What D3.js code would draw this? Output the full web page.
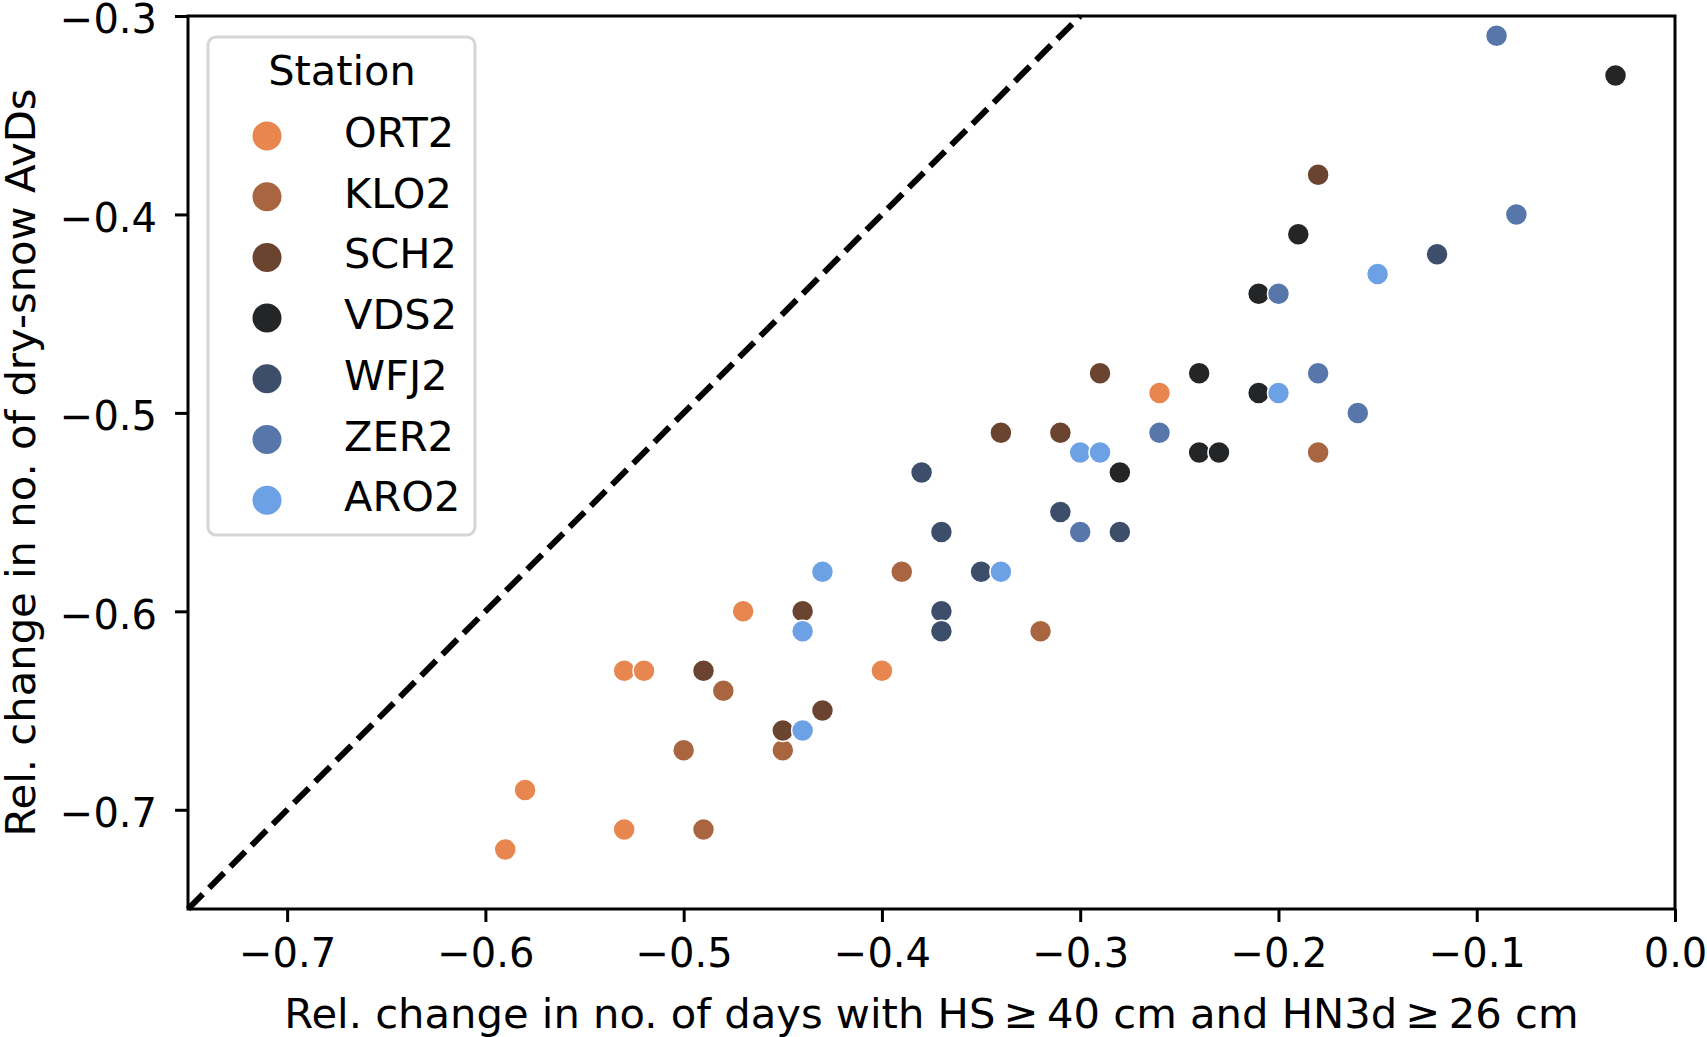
<!DOCTYPE html>
<html>
<head>
<meta charset="utf-8">
<script src="https://cdn.jsdelivr.net/npm/d3@7"></script>
<style>
  body { margin: 0; background: #fff; }
  svg { display: block; font-family: "DejaVu Sans", sans-serif; }
</style>
</head>
<body>
<div id="vis"></div>
<script>
const stations = ['ORT2', 'KLO2', 'SCH2', 'VDS2', 'WFJ2', 'ZER2', 'ARO2'];
const colors = ['#e8864f', '#a86540', '#6b4430', '#242526', '#3d4e6b', '#5777ab', '#6ca1e6'];

// x: rel. change in days with HS>=40 & HN3d>=26, y: rel. change in dry-snow AvDs
const ort2X = [-0.26, -0.47, -0.53, -0.52, -0.40, -0.58, -0.59, -0.53];
const ort2Y = [-0.49, -0.60, -0.63, -0.63, -0.63, -0.69, -0.72, -0.71];
const klo2X = [-0.18, -0.39, -0.32, -0.48, -0.50, -0.45, -0.49];
const klo2Y = [-0.52, -0.58, -0.61, -0.64, -0.67, -0.67, -0.71];
const sch2X = [-0.18, -0.29, -0.34, -0.31, -0.44, -0.49, -0.43, -0.45];
const sch2Y = [-0.38, -0.48, -0.51, -0.51, -0.60, -0.63, -0.65, -0.66];
const vds2X = [-0.03, -0.19, -0.21, -0.24, -0.21, -0.24, -0.23, -0.28];
const vds2Y = [-0.33, -0.41, -0.44, -0.48, -0.49, -0.52, -0.52, -0.53];
const wfj2X = [-0.12, -0.38, -0.31, -0.37, -0.28, -0.35, -0.37, -0.37];
const wfj2Y = [-0.42, -0.53, -0.55, -0.56, -0.56, -0.58, -0.60, -0.61];
const zer2X = [-0.09, -0.08, -0.20, -0.18, -0.16, -0.26, -0.30];
const zer2Y = [-0.31, -0.40, -0.44, -0.48, -0.50, -0.51, -0.56];
const aro2X = [-0.15, -0.20, -0.30, -0.29, -0.43, -0.34, -0.44, -0.44];
const aro2Y = [-0.43, -0.49, -0.52, -0.52, -0.58, -0.58, -0.61, -0.66];

const xTicks = [-0.7, -0.6, -0.5, -0.4, -0.3, -0.2, -0.1, 0.0];
const yTicks = [-0.7, -0.6, -0.5, -0.4, -0.3];
const xDomain = [-0.75, 0.0];
const yDomain = [-0.75, -0.3];
const diag = [-0.75, -0.3];

const seriesX = [ort2X, klo2X, sch2X, vds2X, wfj2X, zer2X, aro2X];
const seriesY = [ort2Y, klo2Y, sch2Y, vds2Y, wfj2Y, zer2Y, aro2Y];

const points = [];
stations.forEach(function(s, i) {
  seriesX[i].forEach(function(v, j) {
    points.push({ station: s, x: v, y: seriesY[i][j] });
  });
});

const W = 1707, H = 1037;
const margin = { top: 16, right: 32, bottom: 128, left: 188 };
const width = W - margin.left - margin.right;
const height = H - margin.top - margin.bottom;

const svg = d3.select('#vis')
  .append('svg')
  .attr('width', W)
  .attr('height', H);

const vis = svg.append('g')
  .attr('transform', 'translate(' + margin.left + ',' + margin.top + ')');

const x = d3.scaleLinear().domain(xDomain).range([0, width]);
const y = d3.scaleLinear().domain(yDomain).range([height, 0]);
const color = d3.scaleOrdinal().domain(stations).range(colors);

// 1:1 line
vis.append('line')
  .attr('x1', x(diag[0])).attr('y1', y(diag[0]))
  .attr('x2', x(diag[1])).attr('y2', y(diag[1]))
  .attr('stroke', '#000')
  .attr('stroke-width', 6)
  .attr('stroke-dasharray', '21,9');

// points
vis.append('g')
  .selectAll('circle')
  .data(points)
  .join('circle')
  .attr('cx', d => x(d.x))
  .attr('cy', d => y(d.y))
  .attr('r', 11)
  .attr('fill', d => color(d.station))
  .attr('stroke', '#fff')
  .attr('stroke-width', 1.5);

// axes
const xAxis = vis.append('g')
  .attr('transform', 'translate(0,' + height + ')')
  .call(d3.axisBottom(x).tickValues(xTicks).tickFormat(d3.format('.1f')).tickSize(13).tickPadding(17));

const yAxis = vis.append('g')
  .call(d3.axisLeft(y).tickValues(yTicks).tickFormat(d3.format('.1f')).tickSize(13).tickPadding(18));

[xAxis, yAxis].forEach(function(a) {
  a.select('.domain').remove();
  a.selectAll('line').attr('stroke', '#000').attr('stroke-width', 3);
  a.selectAll('text').attr('font-size', 40).attr('fill', '#000')
    .attr('font-family', '"DejaVu Sans", sans-serif');
});
yAxis.selectAll('text').attr('dy', '0.42em');

// frame
vis.append('rect')
  .attr('width', width)
  .attr('height', height)
  .attr('fill', 'none')
  .attr('stroke', '#000')
  .attr('stroke-width', 3);

// axis labels
svg.append('text')
  .attr('x', margin.left + width / 2)
  .attr('y', 1028)
  .attr('text-anchor', 'middle')
  .attr('font-size', 41.7)
  .text('Rel. change in no. of days with HS\u2009\u2265\u200940 cm and HN3d\u2009\u2265\u200926 cm');

svg.append('text')
  .attr('transform', 'translate(35,' + (margin.top + height / 2) + ') rotate(-90)')
  .attr('text-anchor', 'middle')
  .attr('font-size', 41.7)
  .text('Rel. change in no. of dry-snow AvDs');

// legend
const legend = svg.append('g').attr('transform', 'translate(208,37)');
legend.append('rect')
  .attr('width', 267)
  .attr('height', 498)
  .attr('rx', 8)
  .attr('fill', '#fff')
  .attr('fill-opacity', 0.8)
  .attr('stroke', '#d6d6d6')
  .attr('stroke-width', 3);

legend.append('text')
  .attr('x', 134)
  .attr('y', 48)
  .attr('text-anchor', 'middle')
  .attr('font-size', 41.5)
  .text('Station');

const rows = legend.selectAll('g.row')
  .data(stations)
  .join('g')
  .attr('class', 'row')
  .attr('transform', (d, i) => 'translate(0,' + (99 + i * 60.7) + ')');

rows.append('circle')
  .attr('cx', 59)
  .attr('r', 14.5)
  .attr('fill', d => color(d));

rows.append('text')
  .attr('x', 136)
  .attr('y', 11)
  .attr('font-size', 41.5)
  .text(d => d);
</script>
</body>
</html>
